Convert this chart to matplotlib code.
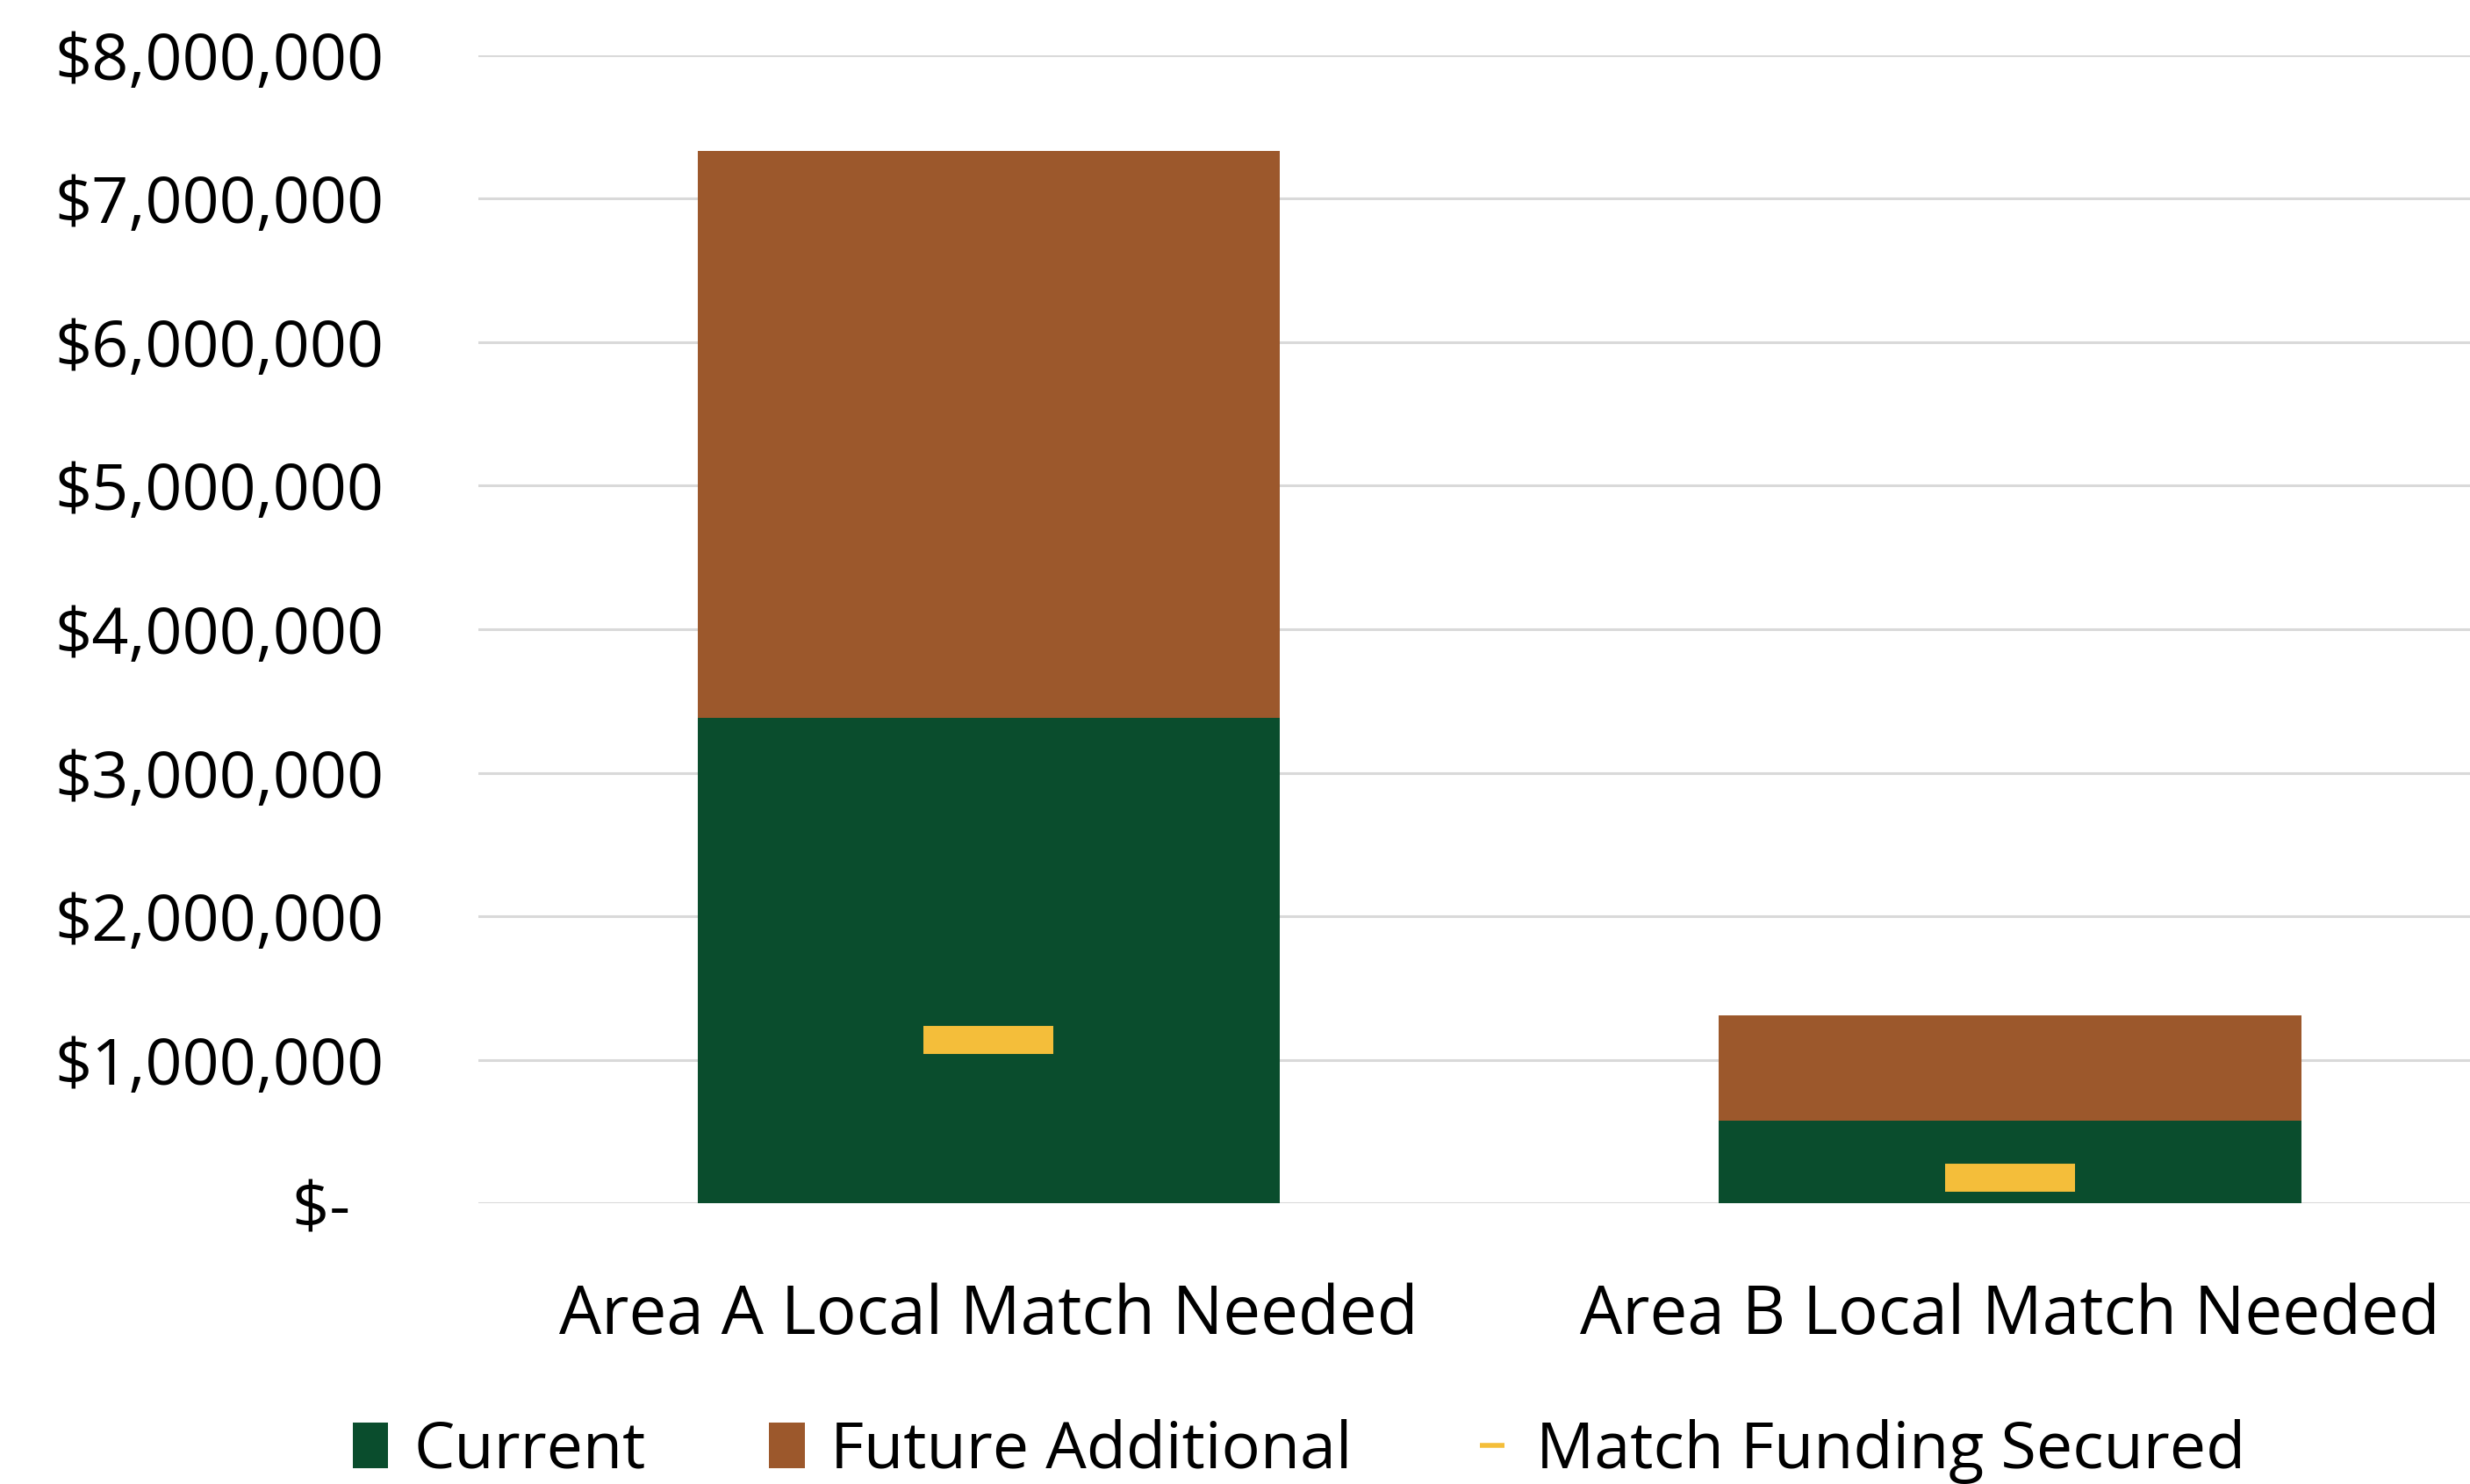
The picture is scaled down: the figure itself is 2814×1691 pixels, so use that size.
import matplotlib
matplotlib.use("Agg")
import matplotlib.pyplot as plt
from matplotlib.patches import Patch
from matplotlib.lines import Line2D

# data
categories = ["Area A Local Match Needed", "Area B Local Match Needed"]
current = [3380000, 580000]
future_additional = [3950000, 730000]
match_secured = [1140000, 180000]
y_ticks = [0, 1000000, 2000000, 3000000, 4000000, 5000000, 6000000, 7000000, 8000000]
y_tick_labels = ["$-  ", "$1,000,000", "$2,000,000", "$3,000,000", "$4,000,000",
                 "$5,000,000", "$6,000,000", "$7,000,000", "$8,000,000"]

green = "#0A4D2D"
brown = "#9C582C"
yellow = "#F4BE3A"
fsize = 53

plt.rcParams["font.family"] = ["Open Sans", "DejaVu Sans"]

fig = plt.figure(figsize=(28.14, 16.91), dpi=100)
ax = fig.add_axes([0.1935, 0.189, 0.827, 0.774])

x = list(range(len(categories)))
ax.bar(x, current, width=0.57, color=green, zorder=2)
ax.bar(x, future_additional, width=0.57, bottom=current, color=brown, zorder=2)
ax.plot(x, match_secured, linestyle="none", marker="_", ms=107, mew=23,
        color=yellow, zorder=3)

ax.set_xlim(-0.5, 1.5)
ax.set_ylim(0, 8000000)
ax.set_yticks(y_ticks)
ax.set_yticklabels(y_tick_labels)
ax.set_xticks(x)
ax.set_xticklabels(categories)
ax.tick_params(axis="y", length=0, pad=77, labelsize=fsize)
ax.tick_params(axis="x", length=0, pad=65, labelsize=55)
ax.yaxis.grid(True, color="#D9D9D9", linewidth=2.2, zorder=0)
ax.set_axisbelow(True)
for s in ax.spines.values():
    s.set_visible(False)

handles = [
    Patch(facecolor=green, label="Current"),
    Patch(facecolor=brown, label="Future Additional"),
    Line2D([], [], linestyle="none", marker="_", ms=20, mew=4, color=yellow,
           label="Match Funding Secured"),
]
fig.legend(handles=handles, loc="center", bbox_to_anchor=(0.526, 0.022), ncol=3,
           frameon=False, fontsize=fsize, handlelength=0.55, handleheight=0.7,
           handletextpad=0.4, columnspacing=1.9)

fig.savefig("out.png", dpi=100)
